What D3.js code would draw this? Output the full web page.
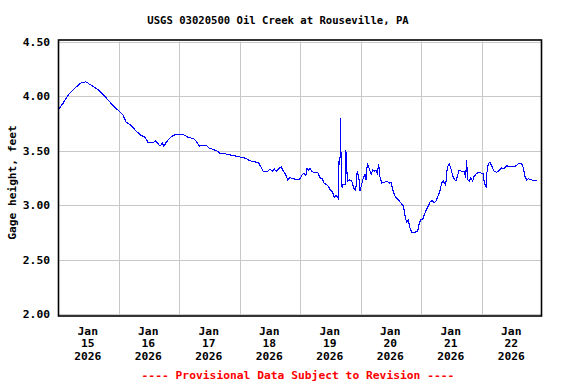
<!DOCTYPE html>
<html>
<head>
<meta charset="utf-8">
<script src="https://cdn.jsdelivr.net/npm/d3@7"></script>
<style>
  body { margin: 0; background: #fff; }
  svg text { font-family: "DejaVu Sans Mono", monospace; font-weight: bold; }
</style>
</head>
<body>
<div id="chart"></div>
<script>
// Messwerte: Stunden seit 15.01.2026 00:00 und Pegelhöhe (ft)
const hoursFromStart = [
  0, 1.9, 3.8, 5.2, 7.1, 9.1, 11.1, 12.4, 14.4, 16.4, 18.4, 20.4, 22.3, 24.3, 25.7, 27.0, 29.0, 30.9, 32.9, 34.6,
  35.8, 37.6, 38.6, 39.4, 40.5, 41.4, 42.0, 42.8, 44.2, 45.7, 48.4, 50.4, 51.7, 53.7, 55.0, 56.1, 57.0, 58.7, 60.0, 61.6,
  63.6, 64.3, 66.2, 68.2, 70.2, 72.2, 74.2, 75.9, 76.8, 79.5, 80.5, 81.4, 83.2, 84.1, 85.0, 85.8, 86.5, 87.4, 88.5, 89.4,
  90.3, 91.1, 92.0, 93.7, 95.1, 96.0, 96.9, 97.7, 98.3, 98.8, 99.3, 100.0, 100.6, 101.3, 103.0, 103.9, 104.8, 105.6, 107.0, 108.0,
  108.9, 109.6, 110.3, 111.2, 111.5, 111.9, 112.0, 112.3, 112.7, 113.2, 113.9, 114.2, 114.8, 115.6, 116.5, 117.4, 118.1, 118.7, 119.3, 119.8,
  120.5, 121.1, 121.8, 122.2, 122.7, 123.5, 124.2, 124.8, 125.5, 126.1, 126.7, 127.2, 127.7, 128.4, 129.7, 130.6, 131.4, 132.1, 132.8, 133.7,
  135.0, 136.3, 137.0, 137.7, 138.3, 139.0, 139.6, 140.3, 141.6, 142.7, 143.2, 143.9, 144.7, 145.3, 146.0, 146.9, 147.6, 148.5, 149.3, 150.0,
  150.9, 151.5, 152.2, 152.8, 153.8, 154.4, 155.2, 155.9, 156.8, 157.9, 158.4, 159.1, 160.1, 161.2, 161.7, 162.1, 162.5, 163.2, 163.8, 164.5,
  165.0, 166.1, 167.1, 168.2, 168.7, 169.1, 169.8, 170.1, 170.7, 171.4, 172.2, 173.0, 174.0, 175.1, 176.0, 176.9, 178.0, 179.3, 180.6, 181.7,
  182.6, 183.9, 184.6, 185.3, 185.9, 186.6, 187.9, 189.2, 190.1
];
const gageHeight = [
  3.87, 3.93, 4.00, 4.04, 4.08, 4.12, 4.13, 4.11, 4.08, 4.05, 4.00, 3.95, 3.90, 3.86, 3.83, 3.76, 3.73, 3.68, 3.64, 3.62,
  3.57, 3.57, 3.59, 3.57, 3.54, 3.57, 3.54, 3.57, 3.61, 3.64, 3.65, 3.64, 3.62, 3.61, 3.58, 3.54, 3.55, 3.55, 3.52, 3.51,
  3.49, 3.47, 3.47, 3.46, 3.45, 3.44, 3.43, 3.41, 3.40, 3.39, 3.35, 3.31, 3.31, 3.33, 3.31, 3.33, 3.31, 3.33, 3.35, 3.31,
  3.28, 3.23, 3.25, 3.24, 3.23, 3.24, 3.28, 3.29, 3.27, 3.34, 3.32, 3.34, 3.31, 3.30, 3.30, 3.25, 3.24, 3.20, 3.18, 3.14,
  3.12, 3.07, 3.09, 3.06, 3.41, 3.44, 3.80, 3.43, 3.16, 3.19, 3.19, 3.50, 3.22, 3.23, 3.22, 3.15, 3.13, 3.31, 3.26, 3.13,
  3.19, 3.25, 3.28, 3.23, 3.38, 3.33, 3.28, 3.32, 3.31, 3.32, 3.29, 3.38, 3.26, 3.20, 3.21, 3.22, 3.20, 3.21, 3.14, 3.08,
  3.05, 3.01, 2.99, 2.90, 2.84, 2.86, 2.79, 2.75, 2.75, 2.76, 2.82, 2.87, 2.87, 2.91, 2.95, 2.99, 3.03, 3.04, 3.02, 3.04,
  3.09, 3.13, 3.20, 3.22, 3.18, 3.34, 3.38, 3.33, 3.25, 3.22, 3.26, 3.32, 3.31, 3.31, 3.25, 3.41, 3.23, 3.22, 3.25, 3.22,
  3.26, 3.29, 3.30, 3.29, 3.29, 3.20, 3.17, 3.29, 3.38, 3.39, 3.35, 3.31, 3.30, 3.32, 3.34, 3.33, 3.36, 3.35, 3.35, 3.36,
  3.38, 3.38, 3.34, 3.26, 3.23, 3.24, 3.23, 3.22, 3.23
];

// Achsen
const yTicks = [2.0, 2.5, 3.0, 3.5, 4.0, 4.5];
const tickDays = [15, 16, 17, 18, 19, 20, 21, 22];
const tickMonth = "Jan";
const tickYear = "2026";

const titleText = "USGS 03020500 Oil Creek at Rouseville, PA";
const yLabel = "Gage height, feet";
const footerText = "---- Provisional Data Subject to Revision ----";

// Größe
const width = 576;
const height = 384;
const plotLeft = 58, plotRight = 542, plotTop = 41.5, plotBottom = 314;

const startTime = new Date(2026, 0, 15, 0, 0);
const data = hoursFromStart.map((h, i) => ({
  t: new Date(startTime.getTime() + h * 3600 * 1000),
  v: gageHeight[i]
}));

const svg = d3.select("#chart")
  .append("svg")
  .attr("width", width)
  .attr("height", height);

const x = d3.scaleTime()
  .domain([new Date(2026, 0, 15), new Date(2026, 0, 23)])
  .range([plotLeft, plotRight]);

const y = d3.scaleLinear()
  .domain([2.0, 4.5])
  .range([plotBottom, plotTop]);

// Gitterlinien
svg.append("g")
  .selectAll("line")
  .data(yTicks)
  .enter()
  .append("line")
  .attr("x1", plotLeft)
  .attr("x2", plotRight)
  .attr("y1", d => Math.round(y(d)) + 0.5)
  .attr("y2", d => Math.round(y(d)) + 0.5)
  .attr("stroke", "#c8c8c8");

const midnights = d3.range(1, 8).map(i => new Date(2026, 0, 15 + i));
svg.append("g")
  .selectAll("line")
  .data(midnights)
  .enter()
  .append("line")
  .attr("x1", d => Math.round(x(d)) + 0.5)
  .attr("x2", d => Math.round(x(d)) + 0.5)
  .attr("y1", plotTop)
  .attr("y2", plotBottom + 2)
  .attr("stroke", "#c8c8c8");

// Linie
const line = d3.line()
  .x(d => x(d.t))
  .y(d => y(d.v));

svg.append("path")
  .datum(data)
  .attr("fill", "none")
  .attr("stroke", "#0000ff")
  .attr("stroke-width", 1.1)
  .attr("shape-rendering", "crispEdges")
  .attr("d", line);

// Rahmen
svg.append("rect")
  .attr("x", 58.5)
  .attr("y", 40)
  .attr("width", 483)
  .attr("height", 276)
  .attr("fill", "none")
  .attr("stroke", "#000")
  .attr("stroke-width", 1.6);

// Y-Achse Beschriftungen
const yAxis = d3.axisLeft(y)
  .tickValues(yTicks)
  .tickFormat(d3.format(".2f"))
  .tickSize(0)
  .tickPadding(8);

svg.append("g")
  .attr("transform", `translate(${plotLeft},0)`)
  .call(yAxis)
  .call(g => g.select(".domain").remove())
  .selectAll("text")
  .attr("font-family", "DejaVu Sans Mono")
  .attr("font-weight", "bold")
  .attr("font-size", 11.3)
  .attr("fill", "#000");

// X-Achse Beschriftungen (Mittag jedes Tages)
const xTicks = tickDays.map(d => new Date(2026, 0, d, 12));
const xLabels = svg.append("g")
  .selectAll("text")
  .data(xTicks)
  .enter()
  .append("text")
  .attr("x", d => x(d))
  .attr("y", 334.5)
  .attr("text-anchor", "middle")
  .attr("font-size", 11.3)
  .attr("fill", "#000");

xLabels.append("tspan").attr("x", d => x(d) - 0.5).text(tickMonth);
xLabels.append("tspan").attr("x", d => x(d) - 0.5).attr("dy", 12.7).text(d => d.getDate());
xLabels.append("tspan").attr("x", d => x(d) - 0.5).attr("dy", 12.7).text(tickYear);

// Titel
svg.append("text")
  .attr("x", 278)
  .attr("y", 24)
  .attr("text-anchor", "middle")
  .attr("font-size", 10.6)
  .attr("fill", "#000")
  .text(titleText);

// Y-Titel
svg.append("text")
  .attr("transform", "translate(15.5,182.5) rotate(-90)")
  .attr("text-anchor", "middle")
  .attr("font-size", 11.2)
  .attr("fill", "#000")
  .text(yLabel);

// Hinweis
svg.append("text")
  .attr("x", 298)
  .attr("y", 378.5)
  .attr("text-anchor", "middle")
  .attr("font-size", 11.3)
  .attr("fill", "#ff0000")
  .text(footerText);
</script>
</body>
</html>
